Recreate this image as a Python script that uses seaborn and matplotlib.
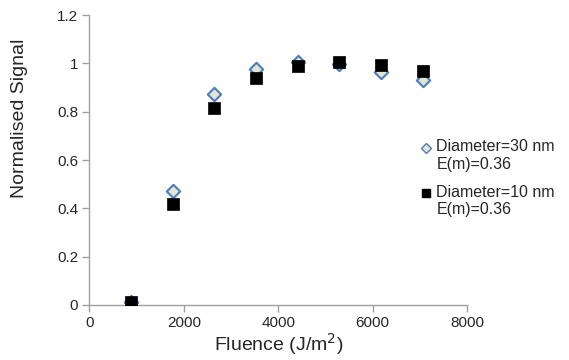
import matplotlib
matplotlib.use("Agg")
import matplotlib.pyplot as plt
import seaborn as sns
import pandas as pd
from matplotlib.lines import Line2D
from matplotlib.legend_handler import HandlerLine2D

fluence = [882, 1764, 2646, 3528, 4410, 5292, 6174, 7056]
signal_30nm = [0.014, 0.472, 0.872, 0.977, 1.005, 0.996, 0.966, 0.931]
signal_10nm = [0.014, 0.417, 0.814, 0.941, 0.990, 1.004, 0.993, 0.970]
label_30 = "Diameter=30 nm\nE(m)=0.36"
label_10 = "Diameter=10 nm\nE(m)=0.36"
xticks = [0, 2000, 4000, 6000, 8000]
yticks = [0, 0.2, 0.4, 0.6, 0.8, 1.0, 1.2]
yticklabels = ["0", "0.2", "0.4", "0.6", "0.8", "1", "1.2"]

sns.set_theme(style="white")
plt.rcParams['font.family'] = ['Liberation Sans', 'DejaVu Sans']

fig = plt.figure(figsize=(5.69, 3.6), dpi=100)
ax = fig.add_axes([0.157, 0.153, 0.664, 0.805])

df30 = pd.DataFrame({"x": fluence, "y": signal_30nm})
df10 = pd.DataFrame({"x": fluence, "y": signal_10nm})

diam_fill = "#e4e4d6"
diam_edge = "#4a7ebb"
sns.scatterplot(data=df30, x="x", y="y", ax=ax, marker="D", s=6.8**2,
                color=diam_fill, edgecolor=diam_edge, linewidth=1.5,
                zorder=3, legend=False)
sns.scatterplot(data=df10, x="x", y="y", ax=ax, marker="s", s=8.8**2,
                color="black", edgecolor="black", linewidth=0.5,
                zorder=4, legend=False)

ax.set_xlim(0, 8000)
ax.set_ylim(0, 1.2)
ax.set_xticks(xticks)
ax.set_xticklabels([str(t) for t in xticks])
ax.set_yticks(yticks)
ax.set_yticklabels(yticklabels)
ax.tick_params(axis="both", labelsize=11, direction="out", length=5,
               width=1, color="#a0a0a0", left=True, bottom=True, pad=3)
for s in ["top", "right"]:
    ax.spines[s].set_visible(False)
for s in ["left", "bottom"]:
    ax.spines[s].set_color("#a0a0a0")
    ax.spines[s].set_linewidth(1)

ax.set_xlabel("Fluence (J/m$^2$)", fontsize=14, labelpad=1)
ax.set_ylabel("Normalised Signal", fontsize=14)
ax.yaxis.set_label_coords(-0.162, 0.645)


class UpHandler(HandlerLine2D):
    def create_artists(self, legend, orig_handle, xdescent, ydescent,
                       width, height, fontsize, trans):
        return super().create_artists(legend, orig_handle, xdescent,
                                      ydescent - 12, width, height,
                                      fontsize, trans)


h30 = Line2D([], [], linestyle="none", marker="D", markersize=5.3,
             markerfacecolor=diam_fill, markeredgecolor=diam_edge,
             markeredgewidth=1.0)
h10 = Line2D([], [], linestyle="none", marker="s", markersize=5.8,
             markerfacecolor="black", markeredgecolor="black")
fig.legend([h30, h10], [label_30, label_10], loc="upper left",
           bbox_to_anchor=(414 / 569, 1 - 133 / 360), frameon=False,
           fontsize=11.5, handlelength=0.7, handletextpad=0.3,
           labelspacing=0.8, borderaxespad=0,
           handler_map={Line2D: UpHandler()})

fig.savefig("out.png", dpi=100)
